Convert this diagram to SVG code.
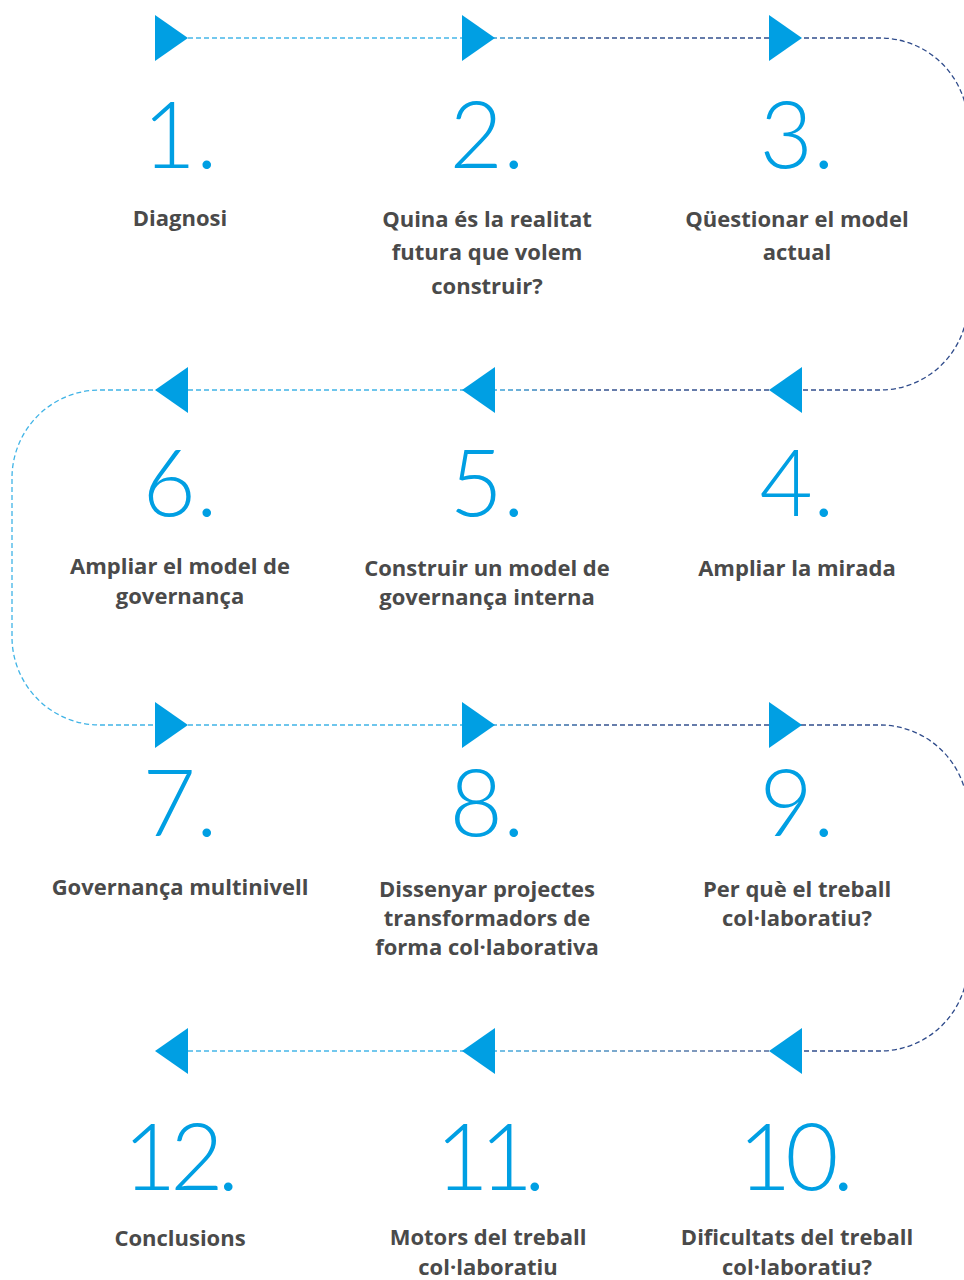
<svg xmlns="http://www.w3.org/2000/svg" width="964" height="1280" viewBox="0 0 964 1280">
<style>
.num{font-family:Lato,"Open Sans","Liberation Sans",sans-serif;font-weight:300;font-size:92px;fill:#009fe3;text-anchor:middle}
.lbl{font-family:"Open Sans","Liberation Sans",sans-serif;font-weight:700;font-size:22px;fill:#4a4a4a;text-anchor:middle}
.dl{fill:none;stroke-width:1.3;stroke-dasharray:5 3}
.tri{fill:#009fe3}
</style>
<defs>
<linearGradient id="gR" gradientUnits="userSpaceOnUse" x1="150" y1="0" x2="964" y2="0">
<stop offset="0" stop-color="#45b6e8"/><stop offset="0.38" stop-color="#45b6e8"/><stop offset="0.55" stop-color="#34528f"/><stop offset="1" stop-color="#2e4a8a"/>
</linearGradient>
<linearGradient id="gL" gradientUnits="userSpaceOnUse" x1="0" y1="0" x2="964" y2="0">
<stop offset="0" stop-color="#3fb3e6"/><stop offset="0.5" stop-color="#3fb3e6"/><stop offset="0.62" stop-color="#34528f"/><stop offset="1" stop-color="#2e4a8a"/>
</linearGradient>
<linearGradient id="gB" gradientUnits="userSpaceOnUse" x1="150" y1="0" x2="964" y2="0">
<stop offset="0" stop-color="#45b6e8"/><stop offset="0.38" stop-color="#45b6e8"/><stop offset="0.7" stop-color="#5670a0"/><stop offset="1" stop-color="#2e4a8a"/>
</linearGradient>
<polygon id="tr" points="0,-23 33,0 0,23"/>
<polygon id="tl" points="33,-23 0,0 33,23"/>
</defs>
<g id="connectors">
<path class="dl" stroke="url(#gR)" d="M188,38 H880 A88,88 0 0 1 968,126 V302 A88,88 0 0 1 880,390 H802"/>
<path class="dl" stroke="url(#gL)" d="M769,390 H100 A88,88 0 0 0 12,478 V637 A88,88 0 0 0 100,725 H802"/>
<path class="dl" stroke="url(#gR)" d="M769,725 H880 A88,88 0 0 1 968,813 V963 A88,88 0 0 1 880,1051 H802"/>
<path class="dl" stroke="url(#gB)" d="M769,1051 H188"/>
</g>
<g id="arrows">
<use href="#tr" class="tri" x="155" y="38"/>
<use href="#tr" class="tri" x="462" y="38"/>
<use href="#tr" class="tri" x="769" y="38"/>
<use href="#tl" class="tri" x="155" y="390"/>
<use href="#tl" class="tri" x="462" y="390"/>
<use href="#tl" class="tri" x="769" y="390"/>
<use href="#tr" class="tri" x="155" y="725"/>
<use href="#tr" class="tri" x="462" y="725"/>
<use href="#tr" class="tri" x="769" y="725"/>
<use href="#tl" class="tri" x="155" y="1051"/>
<use href="#tl" class="tri" x="462" y="1051"/>
<use href="#tl" class="tri" x="769" y="1051"/>
</g>
<g id="step1"><text class="num" x="180" y="168">1.</text><text class="lbl" x="180" y="226">Diagnosi</text></g>
<g id="step2"><text class="num" x="487" y="168">2.</text><text class="lbl" x="487" y="227">Quina és la realitat</text><text class="lbl" x="487" y="260">futura que volem</text><text class="lbl" x="487" y="294">construir?</text></g>
<g id="step3"><text class="num" x="797" y="168">3.</text><text class="lbl" x="797" y="227">Qüestionar el model</text><text class="lbl" x="797" y="260">actual</text></g>
<g id="step4"><text class="num" x="797" y="516">4.</text><text class="lbl" x="797" y="576">Ampliar la mirada</text></g>
<g id="step5"><text class="num" x="487" y="516">5.</text><text class="lbl" x="487" y="576">Construir un model de</text><text class="lbl" x="487" y="605">governança interna</text></g>
<g id="step6"><text class="num" x="180" y="516">6.</text><text class="lbl" x="180" y="574">Ampliar el model de</text><text class="lbl" x="180" y="604">governança</text></g>
<g id="step7"><text class="num" x="180" y="836">7.</text><text class="lbl" x="180" y="895">Governança multinivell</text></g>
<g id="step8"><text class="num" x="487" y="836">8.</text><text class="lbl" x="487" y="897">Dissenyar projectes</text><text class="lbl" x="487" y="926">transformadors de</text><text class="lbl" x="487" y="955">forma col·laborativa</text></g>
<g id="step9"><text class="num" x="797" y="836">9.</text><text class="lbl" x="797" y="897">Per què el treball</text><text class="lbl" x="797" y="926">col·laboratiu?</text></g>
<g id="step10"><text class="num" x="793" y="1190" letter-spacing="-6">10.</text><text class="lbl" x="797" y="1245">Dificultats del treball</text><text class="lbl" x="797" y="1275">col·laboratiu?</text></g>
<g id="step11"><text class="num" x="486" y="1190" letter-spacing="-9">11.</text><text class="lbl" x="488" y="1245">Motors del  treball</text><text class="lbl" x="488" y="1275">col·laboratiu</text></g>
<g id="step12"><text class="num" x="178" y="1190" letter-spacing="-6">12.</text><text class="lbl" x="180" y="1246">Conclusions</text></g>
</svg>
